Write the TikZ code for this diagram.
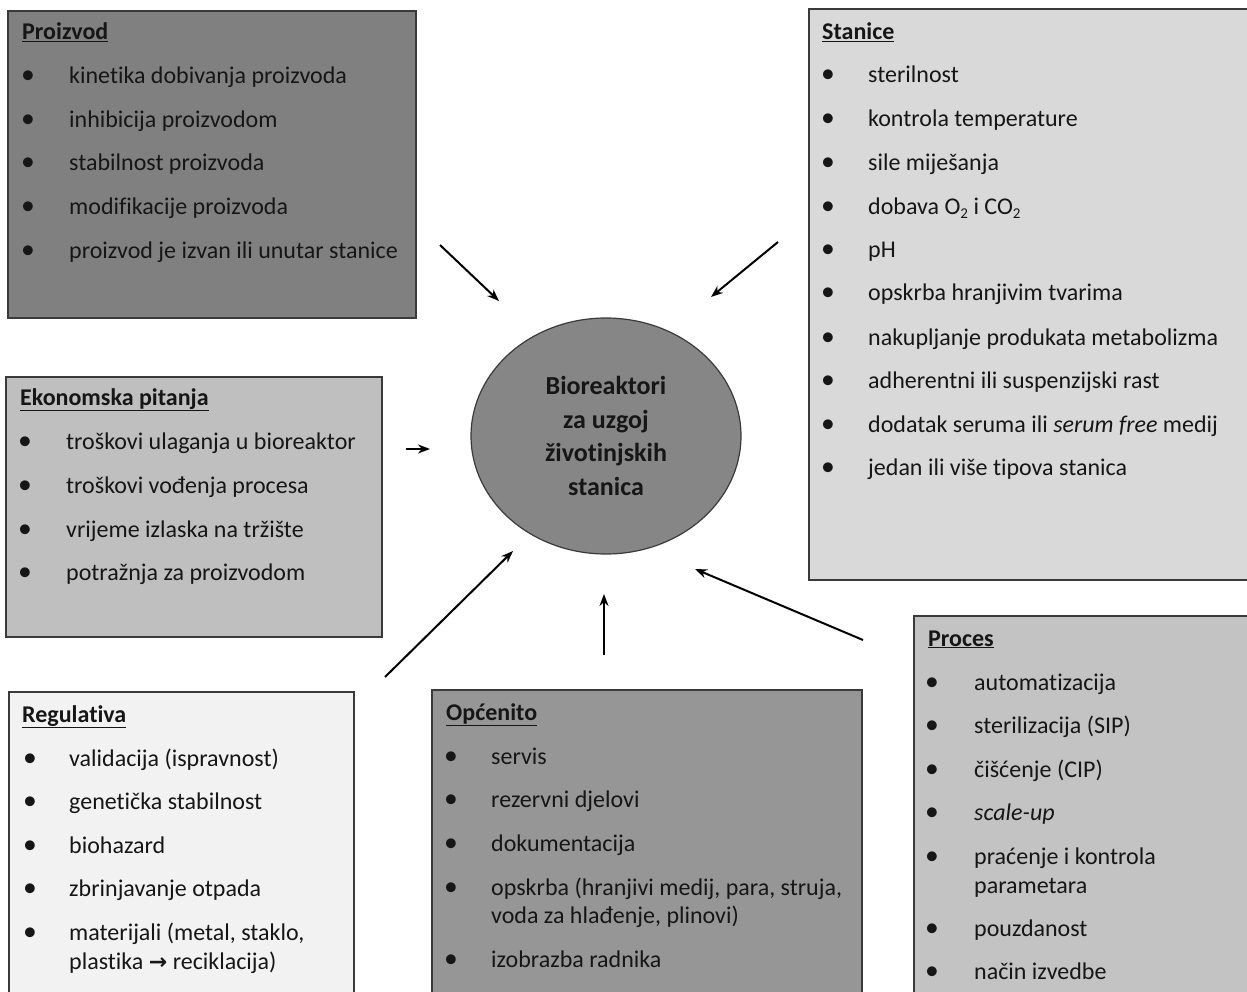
\documentclass[tikz,border=0pt]{standalone}
\usepackage{fontspec}
\setmainfont{Carlito}[Ligatures=NoCommon]
\newfontfamily\dejavu{DejaVu Sans}
\usetikzlibrary{shapes.geometric,arrows.meta}
\definecolor{cProizvod}{HTML}{808080}
\definecolor{cStanice}{HTML}{D9D9D9}
\definecolor{cEkon}{HTML}{BFBFBF}
\definecolor{cRegul}{HTML}{F2F2F2}
\definecolor{cOpc}{HTML}{969696}
\definecolor{cProces}{HTML}{C3C3C3}
\definecolor{cEll}{HTML}{868686}
\definecolor{boxline}{HTML}{3A3A3A}
\definecolor{txtc}{HTML}{161616}
\newcommand\Fs{\fontsize{24}{28}\selectfont}
\newcommand\Sub[1]{\raisebox{-0.3ex}{\fontsize{15}{16}\selectfont #1}}
\newcommand\Item[5]{\node[bul] (#1b) at (#2,#4) {\textbullet}; \node[txt] (#1) at (#3,#4) {#5};}
\tikzset{
  box/.style={draw=boxline, line width=1.3pt, rectangle, inner sep=0pt},
  txt/.style={anchor=base west, inner sep=0pt, font=\Fs, text=txtc},
  bul/.style={anchor=base, inner sep=0pt, font=\Fs, text=txtc, scale=1.15},
  ttl/.style={anchor=base west, inner sep=0pt, font=\Fs\bfseries, text=txtc},
  arr/.style={-{Stealth[length=12pt,width=9pt]}, line width=2pt, black}
}
\begin{document}
\begin{tikzpicture}[x=1pt,y=-1pt]
\useasboundingbox (0,0) rectangle (1247,992);
\fill[white] (0,0) rectangle (1247,992);
% boxes
\draw[box, fill=cProizvod] (8,11) rectangle (416,318);
\node[inner sep=0pt] (proizvod) at (212,164) {};
\draw[box, fill=cStanice] (809,9) rectangle (1260,580);
\node[inner sep=0pt] (stanice) at (1030,295) {};
\draw[box, fill=cEkon] (6,377) rectangle (382,637);
\node[inner sep=0pt] (ekon) at (194,507) {};
\draw[box, fill=cRegul] (9,692) rectangle (354,1005);
\node[inner sep=0pt] (regul) at (180,850) {};
\draw[box, fill=cOpc] (432,690) rectangle (862,1005);
\node[inner sep=0pt] (opc) at (647,850) {};
\draw[box, fill=cProces] (914,616) rectangle (1260,1005);
\node[inner sep=0pt] (proces) at (1080,810) {};

% Proizvod
\node[ttl] (t1) at (22,40) {\underline{Proizvod}};
\Item{p1}{28}{69}{84}{kinetika dobivanja proizvoda}
\Item{p2}{28}{69}{128}{inhibicija proizvodom}
\Item{p3}{28}{69}{171}{stabilnost proizvoda}
\Item{p4}{28}{69}{215}{modifikacije proizvoda}
\Item{p5}{28}{69}{259}{proizvod je izvan ili unutar stanice}

% Stanice
\node[ttl] (t2) at (822,40) {\underline{Stanice}};
\Item{s1}{828}{868}{83}{sterilnost}
\Item{s2}{828}{868}{127}{kontrola temperature}
\Item{s3}{828}{868}{171}{sile miješanja}
\Item{s4}{828}{868}{215}{dobava O\Sub{2} i CO\Sub{2}}
\Item{s5}{828}{868}{258}{pH}
\Item{s6}{828}{868}{301}{opskrba hranjivim tvarima}
\Item{s7}{828}{868}{345}{nakupljanje produkata metabolizma}
\Item{s8}{828}{868}{388}{adherentni ili suspenzijski rast}
\Item{s9}{828}{868}{432}{dodatak seruma ili \textit{serum free} medij}
\Item{s10}{828}{868}{475}{jedan ili više tipova stanica}

% Ekonomska pitanja
\node[ttl] (t3) at (20,405) {\underline{Ekonomska pitanja}};
\Item{e1}{25}{66}{449}{troškovi ulaganja u bioreaktor}
\Item{e2}{25}{66}{493}{troškovi vođenja procesa}
\Item{e3}{25}{66}{537}{vrijeme izlaska na tržište}
\Item{e4}{25}{66}{580}{potražnja za proizvodom}

% Regulativa
\node[ttl] (t4) at (22,722) {\underline{Regulativa}};
\Item{r1}{30}{69}{766}{validacija (ispravnost)}
\Item{r2}{30}{69}{809}{genetička stabilnost}
\Item{r3}{30}{69}{853}{biohazard}
\Item{r4}{30}{69}{896}{zbrinjavanje otpada}
\Item{r5}{30}{69}{940}{materijali (metal, staklo,}
\node[txt] (r6) at (69,969) {plastika {\dejavu\bfseries\fontsize{22}{24}\selectfont →} reciklacija)};

% Općenito
\node[ttl] (t5) at (446,720) {\underline{Općenito}};
\Item{o1}{451}{491}{764}{servis}
\Item{o2}{451}{491}{807}{rezervni djelovi}
\Item{o3}{451}{491}{851}{dokumentacija}
\Item{o4}{451}{491}{895}{opskrba (hranjivi medij, para, struja,}
\node[txt] (o5) at (491,923) {voda za hlađenje, plinovi)};
\Item{o6}{451}{491}{967}{izobrazba radnika}

% Proces
\node[ttl] (t6) at (928,646) {\underline{Proces}};
\Item{c1}{932}{974}{690}{automatizacija}
\Item{c2}{932}{974}{733}{sterilizacija (SIP)}
\Item{c3}{932}{974}{777}{čišćenje (CIP)}
\Item{c4}{932}{974}{820}{\textit{scale-up}}
\Item{c5}{932}{974}{864}{praćenje i kontrola}
\node[txt] (c6) at (974,893) {parametara};
\Item{c7}{932}{974}{936}{pouzdanost}
\Item{c8}{932}{974}{979}{način izvedbe}

% centre
\node[ellipse, draw=boxline, line width=1.2pt, fill=cEll, minimum width=270pt, minimum height=236pt,
      align=center, text=txtc, font=\fontsize{26}{33.5}\selectfont\bfseries, inner sep=0pt] (bio) at (606,436)
      {Bioreaktori\\za uzgoj\\životinjskih\\stanica};

% arrows
\coordinate (a1s) at (440,245); \coordinate (a1e) at (499,301);
\coordinate (a2s) at (778,242); \coordinate (a2e) at (711,297);
\coordinate (a3s) at (406,449); \coordinate (a3e) at (430,449);
\coordinate (a4s) at (385,677); \coordinate (a4e) at (513,551);
\coordinate (a5s) at (604,655); \coordinate (a5e) at (604,594);
\coordinate (a6s) at (863,640); \coordinate (a6e) at (695,569);
\draw[arr] (a1s) -- (a1e);
\draw[arr] (a2s) -- (a2e);
\draw[arr] (a3s) -- (a3e);
\draw[arr] (a4s) -- (a4e);
\draw[arr] (a5s) -- (a5e);
\draw[arr] (a6s) -- (a6e);
\end{tikzpicture}
\end{document}
